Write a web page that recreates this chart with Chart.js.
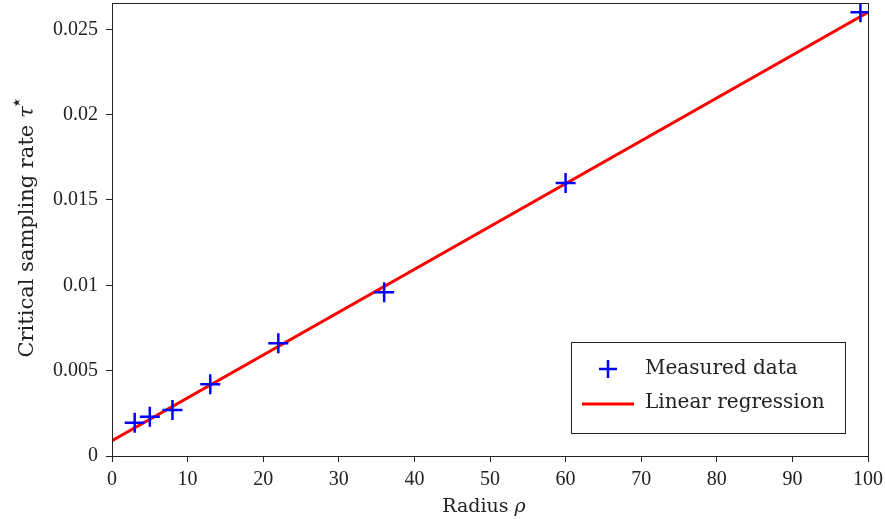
<!DOCTYPE html>
<html>
<head>
<meta charset="utf-8">
<script src="https://cdn.jsdelivr.net/npm/chart.js@4.4.0/dist/chart.umd.min.js"></script>
<style>
  html, body { margin: 0; padding: 0; background: #fff; }
  #wrap { width: 885px; height: 519px; }
</style>
</head>
<body>
<div id="wrap"><canvas id="chart" width="885" height="519"></canvas></div>
<script>
// data
const radius = [3, 5, 8, 13, 22, 36, 60, 99];
const rate = [0.00195, 0.0023, 0.0027, 0.0042, 0.0066, 0.0096, 0.016, 0.026];
// regression line end points
const regX = [0, 100];
const regY = [0.0009, 0.026];
// tick labels
const xTicks = [0, 10, 20, 30, 40, 50, 60, 70, 80, 90, 100];
const yTicks = [0, 0.005, 0.01, 0.015, 0.02, 0.025];
const yLabels = ["0", "0.005", "0.01", "0.015", "0.02", "0.025"];

const FONT = "'Liberation Serif', serif";
const TFONT = "'DejaVu Serif', serif";
const ink = "#222";

// box, axis titles and legend
const decor = {
  id: "decor",
  afterDraw(chart) {
    const c = chart.ctx;
    const a = chart.chartArea;
    c.save();
    c.strokeStyle = ink;
    c.lineWidth = 1;
    c.strokeRect(a.left + 0.5, a.top + 0.5, a.right - a.left, a.bottom - a.top);

    // x title
    c.fillStyle = ink;
    c.textBaseline = "alphabetic";
    c.font = "19px " + TFONT;
    let t1 = "Radius ";
    let w1 = c.measureText(t1).width;
    c.font = "italic 19px " + TFONT;
    let w2 = c.measureText("ρ").width;
    let x0 = 484 - (w1 + w2) / 2;
    c.font = "19px " + TFONT;
    c.textAlign = "left";
    c.fillText(t1, x0, 512);
    c.font = "italic 19px " + TFONT;
    c.fillText("ρ", x0 + w1, 512);

    // y title, rotated
    c.save();
    c.translate(33, 228);
    c.rotate(-Math.PI / 2);
    c.font = "21px " + TFONT;
    t1 = "Critical sampling rate ";
    w1 = c.measureText(t1).width;
    c.font = "italic 21px " + TFONT;
    w2 = c.measureText("τ").width;
    x0 = -(w1 + w2 + 8) / 2;
    c.font = "21px " + TFONT;
    c.fillText(t1, x0, 0);
    c.font = "italic 21px " + TFONT;
    c.fillText("τ", x0 + w1, 0);
    c.font = "20px " + TFONT;
    c.fillText("⋆", x0 + w1 + w2 - 3, -10);
    c.restore();

    // legend
    const lx = 571, ly = 342, lw = 274, lh = 91;
    c.fillStyle = "#fff";
    c.fillRect(lx, ly, lw, lh);
    c.strokeStyle = ink;
    c.strokeRect(lx + 0.5, ly + 0.5, lw, lh);
    // cross marker
    c.strokeStyle = "#0000ff";
    c.lineWidth = 2.5;
    c.beginPath();
    c.moveTo(599, 369); c.lineTo(617, 369);
    c.moveTo(608, 360); c.lineTo(608, 378);
    c.stroke();
    // red line
    c.strokeStyle = "#ff0000";
    c.lineWidth = 3;
    c.beginPath();
    c.moveTo(582, 404); c.lineTo(634, 404);
    c.stroke();
    c.fillStyle = ink;
    c.font = "20px " + TFONT;
    c.textBaseline = "middle";
    c.fillText("Measured data", 645, 369);
    c.fillText("Linear regression", 645, 403);
    c.restore();
  }
};

new Chart(document.getElementById("chart"), {
  type: "scatter",
  data: {
    datasets: [
      {
        label: "Linear regression",
        data: regX.map((x, i) => ({ x: x, y: regY[i] })),
        showLine: true,
        borderColor: "#ff0000",
        borderWidth: 3,
        pointRadius: 0,
        order: 2,
      },
      {
        label: "Measured data",
        data: radius.map((x, i) => ({ x: x, y: rate[i] })),
        pointStyle: "cross",
        pointRadius: 10,
        pointBorderWidth: 2.5,
        borderColor: "#0000ff",
        backgroundColor: "#0000ff",
        order: 1,
      },
    ],
  },
  options: {
    responsive: false,
    animation: false,
    layout: { autoPadding: false, padding: { top: 3, right: 17, left: 0, bottom: 0 } },
    plugins: { legend: { display: false }, tooltip: { enabled: false } },
    scales: {
      x: {
        type: "linear",
        min: 0,
        max: 100,
        afterBuildTicks: (axis) => { axis.ticks = xTicks.map((v) => ({ value: v })); },
        afterFit: (axis) => {
          axis.height = 63;
          axis.paddingLeft = 0;
          axis.paddingRight = 0;
        },
        grid: { drawOnChartArea: false, tickLength: 6, color: ink },
        border: { display: false },
        ticks: { color: ink, font: { family: FONT, size: 20 }, padding: 6, maxRotation: 0 },
      },
      y: {
        type: "linear",
        min: 0,
        max: 0.02654,
        afterBuildTicks: (axis) => { axis.ticks = yTicks.map((v) => ({ value: v })); },
        afterFit: (axis) => {
          axis.width = 112;
          axis.paddingTop = 0;
          axis.paddingBottom = 0;
        },
        grid: { drawOnChartArea: false, tickLength: 6, color: ink },
        border: { display: false },
        ticks: {
          color: ink,
          font: { family: FONT, size: 20 },
          padding: 8,
          callback: (v) => yLabels[yTicks.indexOf(v)],
        },
      },
    },
  },
  plugins: [decor],
});
</script>
</body>
</html>
